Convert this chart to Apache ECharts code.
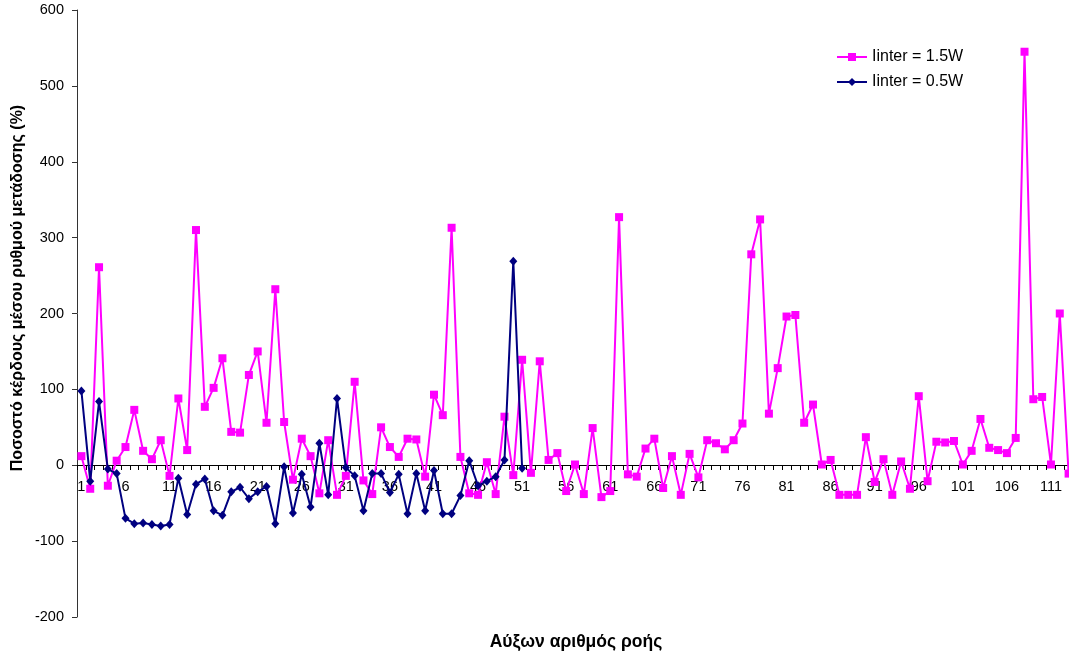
<!DOCTYPE html>
<html>
<head>
<meta charset="utf-8">
<script src="https://cdn.jsdelivr.net/npm/echarts@6/dist/echarts.min.js"></script>
<style>
  html, body { margin: 0; padding: 0; background: #fff; overflow: hidden; }
  /* plot area runs slightly past the right edge of the window */
  #chart { width: 1073px; height: 655px; }
</style>
</head>
<body>
<div id="chart"></div>
<script>
// Flow sequence numbers (x-axis categories)
const flowIds = [
  '1','2','3','4','5','6','7','8','9','10','11','12','13','14','15','16','17','18','19','20',
  '21','22','23','24','25','26','27','28','29','30','31','32','33','34','35','36','37','38','39','40',
  '41','42','43','44','45','46','47','48','49','50','51','52','53','54','55','56','57','58','59','60',
  '61','62','63','64','65','66','67','68','69','70','71','72','73','74','75','76','77','78','79','80',
  '81','82','83','84','85','86','87','88','89','90','91','92','93','94','95','96','97','98','99','100',
  '101','102','103','104','105','106','107','108','109','110','111','112','113'
];

// Throughput gain (%) with Iinter = 1.5W
const gainHigh = [
  12, -31, 261, -27, 6, 24, 73, 19, 8, 33,
  -14, 88, 20, 310, 77, 102, 141, 44, 43, 119,
  150, 56, 232, 57, -19, 35, 12, -37, 33, -39,
  -14, 110, -20, -38, 50, 24, 11, 35, 34, -15,
  93, 66, 313, 11, -37, -39, 4, -38, 64, -13,
  139, -10, 137, 7, 16, -34, 1, -38, 49, -42,
  -34, 327, -12, -15, 22, 35, -30, 12, -39, 15,
  -16, 33, 29, 21, 33, 55, 278, 324, 68, 128,
  196, 198, 56, 80, 1, 7, -39, -39, -39, 37,
  -22, 8, -39, 5, -31, 91, -21, 31, 30, 32,
  1, 19, 61, 23, 20, 16, 36, 545, 87, 90,
  1, 200, -11
];

// Throughput gain (%) with Iinter = 0.5W
const gainLow = [
  98, -21, 84, -5, -11, -70, -77, -76, -78, -80,
  -78, -17, -65, -25, -18, -60, -66, -35, -29, -44,
  -35, -28, -77, -2, -63, -12, -55, 29, -39, 88,
  -3, -14, -60, -11, -11, -36, -12, -64, -11, -60,
  -7, -64, -64, -40, 6, -27, -21, -15, 7, 269,
  -4
];

const seriesNames = ['Iinter = 1.5W', 'Iinter = 0.5W'];
const yTitle = 'Ποσοστό κέρδους μέσου ρυθμού μετάδοσης (%)';
const xTitle = 'Αύξων αριθμός ροής';

const FONT = '"Liberation Sans", Arial, sans-serif';

const Y_MIN = -200, Y_MAX = 600;
const GRID_TOP = 10, GRID_BOTTOM = 38, CHART_H = 655;
// lift the category axis from the bottom edge up to the zero line
const plotH = CHART_H - GRID_TOP - GRID_BOTTOM;
const zeroLift = -Math.round(plotH * (0 - Y_MIN) / (Y_MAX - Y_MIN));

const chart = echarts.init(document.getElementById('chart'), null, { renderer: 'canvas' });

chart.setOption({
  animation: false,
  backgroundColor: '#ffffff',
  grid: { left: 77, right: 0, top: GRID_TOP, bottom: GRID_BOTTOM, containLabel: false },
  legend: {
    orient: 'vertical',
    left: 836,
    top: 49,
    padding: 0,
    itemWidth: 30,
    itemHeight: 10,
    itemGap: 9,
    textStyle: { fontFamily: FONT, fontSize: 16, color: '#000' },
    data: seriesNames
  },
  xAxis: {
    type: 'category',
    data: flowIds,
    boundaryGap: true,
    position: 'bottom',
    offset: zeroLift,
    axisLine: { onZero: false, lineStyle: { color: '#000', width: 1 } },
    axisTick: { show: true, interval: 0, length: 5, inside: false, lineStyle: { color: '#000' } },
    axisLabel: { interval: 4, margin: 14, fontFamily: FONT, fontSize: 14.5, color: '#000' },
    splitLine: { show: false }
  },
  yAxis: {
    type: 'value',
    min: Y_MIN,
    max: Y_MAX,
    interval: 100,
    axisLine: { show: true, lineStyle: { color: '#333', width: 1 } },
    axisTick: { show: true, length: 5, lineStyle: { color: '#333' } },
    axisLabel: { margin: 13, fontFamily: FONT, fontSize: 14.5, color: '#000' },
    splitLine: { show: false }
  },
  graphic: [
    {
      type: 'text',
      x: 18, y: 288,
      rotation: Math.PI / 2,
      style: {
        text: yTitle,
        fontFamily: FONT, fontSize: 16, fontWeight: 'bold', fill: '#000',
        align: 'center', verticalAlign: 'middle'
      }
    },
    {
      type: 'text',
      x: 576, y: 642,
      style: {
        text: xTitle,
        fontFamily: FONT, fontSize: 17.5, fontWeight: 'bold', fill: '#000',
        align: 'center', verticalAlign: 'middle'
      }
    }
  ],
  series: [
    {
      name: seriesNames[0],
      type: 'line',
      data: gainHigh,
      symbol: 'rect',
      symbolSize: 8,
      showAllSymbol: true,
      clip: true,
      lineStyle: { color: '#ff00ff', width: 2 },
      itemStyle: { color: '#ff00ff' },
      z: 2
    },
    {
      name: seriesNames[1],
      type: 'line',
      data: gainLow,
      symbol: 'diamond',
      symbolSize: [8, 9],
      showAllSymbol: true,
      clip: true,
      lineStyle: { color: '#000080', width: 2 },
      itemStyle: { color: '#000080' },
      z: 3
    }
  ]
});
</script>
</body>
</html>
